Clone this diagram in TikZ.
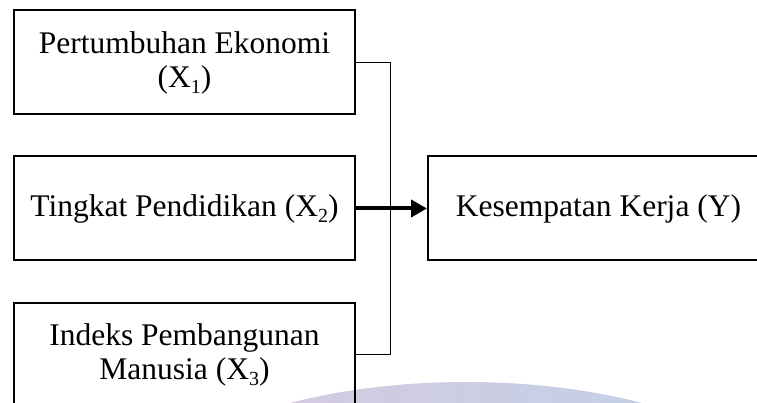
\documentclass[tikz,border=0pt]{standalone}
\usepackage{fontspec}
\setmainfont{Liberation Serif}
\usepackage{tikz}
\usetikzlibrary{positioning, arrows.meta, calc}
\definecolor{wmpink}{RGB}{218,200,222}
\definecolor{wmblue}{RGB}{190,211,232}
\newcommand{\varsub}[1]{\raisebox{-0.45ex}{\fontsize{20}{20}\selectfont #1}}
\tikzset{
    varbox/.style={draw, line width=2pt, minimum width=341pt, minimum height=104pt,
        inner sep=0pt, align=center, font=\fontsize{31.5}{34}\selectfont},
    link/.style={line width=1pt},
    mainarrow/.style={line width=4pt, -{Triangle[length=16pt, width=17pt]}}
}

\begin{document}
\begin{tikzpicture}[x=1pt, y=-1pt]

    % =========================================================================
    % FRAME (the picture is cut off at the bottom and the right)
    % =========================================================================
    \useasboundingbox (0,0) rectangle (757,403);
    \clip (0,0) rectangle (757,403);

    % faint watermark arc behind the diagram
    \shade[left color=wmpink, right color=wmblue] (466,532) ellipse (345pt and 150pt);

    % =========================================================================
    % LEFT SIDE: Independent Variables
    % =========================================================================
    \node[varbox] (pert_eko) at (184.5, 62.5) {Pertumbuhan Ekonomi\\(X\varsub{1})};
    \node[varbox] (ting_pend) at (184.5, 208.5) {Tingkat Pendidikan (X\varsub{2})};
    \node[varbox] (ipm) at (184.5, 354.5) {Indeks Pembangunan\\Manusia (X\varsub{3})};

    % =========================================================================
    % RIGHT SIDE: Dependent Variable
    % =========================================================================
    \node[varbox] (kes_kerja) at (598.5, 208.5) {Kesempatan Kerja (Y)};

    % =========================================================================
    % CONNECTORS
    % =========================================================================
    % Bracket joining X1 and X3
    \coordinate (junc_top) at ($(pert_eko.east)+(34,0)$);
    \coordinate (junc_bot) at ($(ipm.east)+(34,0)$);
    \draw[link] (pert_eko.east) -- (junc_top) -- (junc_bot) -- (ipm.east);

    % Main arrow into Y
    \draw[mainarrow] (ting_pend.east) -- (kes_kerja.west);

\end{tikzpicture}
\end{document}
